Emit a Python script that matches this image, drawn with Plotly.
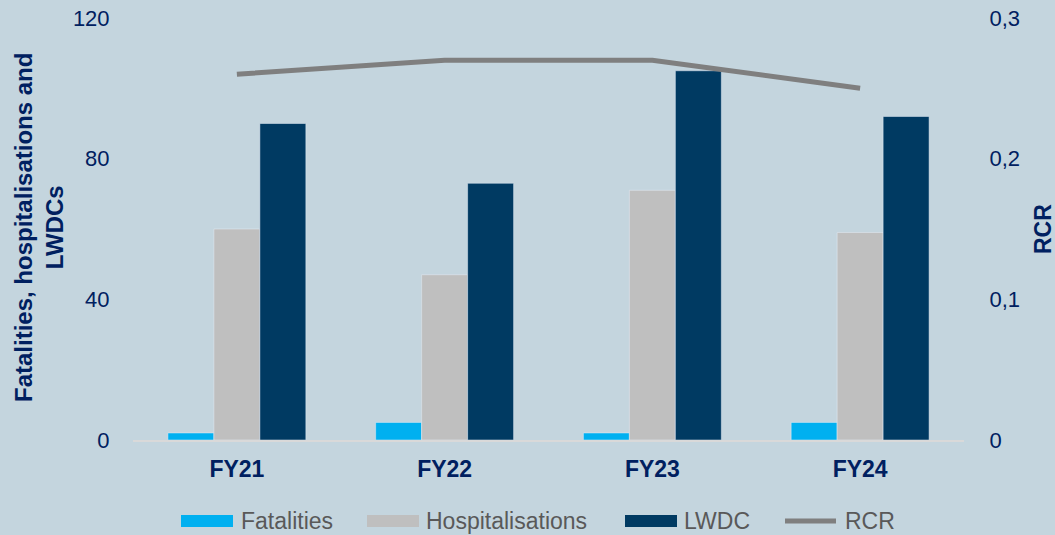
import plotly.graph_objects as go

categories = ["FY21", "FY22", "FY23", "FY24"]
fatalities = [2, 5, 2, 5]
hospitalisations = [60, 47, 71, 59]
lwdc = [90, 73, 105, 92]
rcr = [0.26, 0.27, 0.27, 0.25]

left_ticks = [0, 40, 80, 120]
right_ticks = [0, 0.1, 0.2, 0.3]
right_tick_labels = ["0", "0,1", "0,2", "0,3"]

series_names = ["Fatalities", "Hospitalisations", "LWDC", "RCR"]
series_colors = ["#00B0F0", "#BFBFBF", "#003A62", "#7F7F7F"]

bg = "#C4D5DE"
navy = "#002060"
font_family = "Liberation Sans, Arial, sans-serif"

W, H = 1055, 535
L, R, T, B = 133, 91, 18, 95
pw, ph = W - L - R, H - T - B


def px_x(px):
    return (px - L) / pw


def px_y(py):
    return (H - B - py) / ph


fig = go.Figure()
fig.add_trace(go.Bar(name=series_names[0], x=categories, y=fatalities, marker_color=series_colors[0]))
fig.add_trace(go.Bar(name=series_names[1], x=categories, y=hospitalisations, marker_color=series_colors[1]))
fig.add_trace(go.Bar(name=series_names[2], x=categories, y=lwdc, marker_color=series_colors[2]))
fig.add_trace(go.Scatter(name=series_names[3], x=categories, y=rcr, mode="lines",
                         line=dict(color=series_colors[3], width=5), yaxis="y2"))

fig.update_layout(
    width=W, height=H,
    paper_bgcolor=bg, plot_bgcolor=bg,
    margin=dict(l=L, r=R, t=T, b=B, autoexpand=False),
    barmode="group", bargap=0.336, bargroupgap=0,
    font=dict(family=font_family, color=navy, size=22),
    showlegend=False,
    xaxis=dict(showline=True, linecolor="#D9D9D9", linewidth=2,
               tickfont=dict(size=23, weight="bold", color=navy),
               ticks="outside", ticklen=7, tickcolor="rgba(0,0,0,0)", showgrid=False),
    yaxis=dict(range=[0, 120], tickvals=left_ticks, showgrid=False, zeroline=False,
               tickfont=dict(size=22, color=navy),
               ticks="outside", ticklen=18, tickcolor="rgba(0,0,0,0)"),
    yaxis2=dict(range=[0, 0.3], tickvals=right_ticks, ticktext=right_tick_labels,
                overlaying="y", side="right", showgrid=False, zeroline=False,
                tickfont=dict(size=22, color=navy),
                ticks="outside", ticklen=20, tickcolor="rgba(0,0,0,0)"),
)

# axis titles
fig.add_annotation(text="<b>Fatalities, hospitalisations and<br>LWDCs</b>", xref="paper", yref="paper",
                   x=px_x(39), y=px_y(228), xanchor="center", yanchor="middle", textangle=-90,
                   showarrow=False, font=dict(size=24, color=navy))
fig.add_annotation(text="<b>RCR</b>", xref="paper", yref="paper",
                   x=px_x(1043), y=px_y(229), xanchor="center", yanchor="middle", textangle=-90,
                   showarrow=False, font=dict(size=23, color=navy))

# manual legend
legend_sym_x = [181, 367, 625, 783]
legend_txt_x = [239, 424, 682, 843]
ly = 521
for i, name in enumerate(series_names):
    x0 = legend_sym_x[i]
    if i < 3:
        fig.add_shape(type="rect", xref="paper", yref="paper",
                      x0=px_x(x0), x1=px_x(x0 + 52), y0=px_y(ly - 6), y1=px_y(ly + 6),
                      fillcolor=series_colors[i], line=dict(width=0))
    else:
        fig.add_shape(type="line", xref="paper", yref="paper",
                      x0=px_x(x0 + 2), x1=px_x(x0 + 53), y0=px_y(ly), y1=px_y(ly),
                      line=dict(color=series_colors[i], width=5))
    fig.add_annotation(text=name, xref="paper", yref="paper", x=px_x(legend_txt_x[i]), y=px_y(ly),
                       xanchor="left", yanchor="middle", showarrow=False,
                       font=dict(size=23, color="#595959"))

fig.write_html("out.html")
